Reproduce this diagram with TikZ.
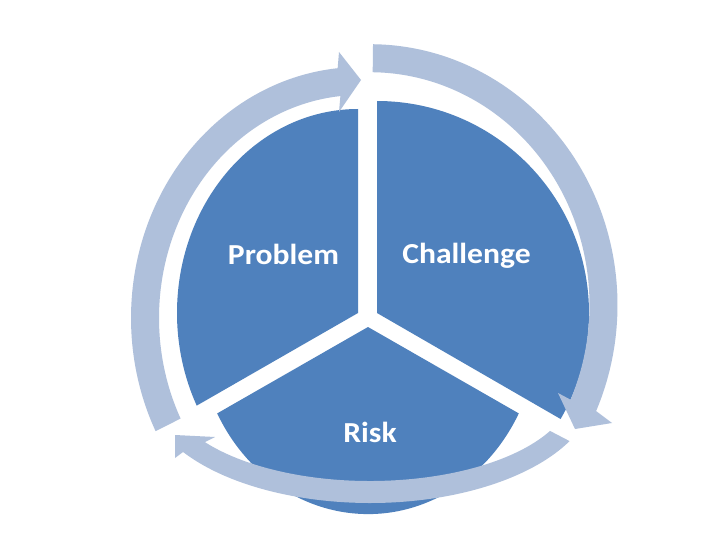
\documentclass[tikz,border=0pt]{standalone}
\usepackage{graphicx}
\usepackage{fontspec}
\setmainfont{Carlito}
\definecolor{segblue}{RGB}{79,129,189}
\definecolor{arrowblue}{RGB}{175,192,219}
\begin{document}
\begin{tikzpicture}[x=1pt,y=1pt,yscale=-1,
  seg/.style={fill=segblue},
  arr/.style={fill=arrowblue},
  lbl/.style={text=white, font=\fontsize{29}{34}\selectfont\bfseries, anchor=base, inner sep=0pt}]
\fill[white] (0,0) rectangle (720,540);
\useasboundingbox (0,0) rectangle (720,540);
% sectors
\fill[seg] (377,313) -- (377,101) arc[start angle=-90, end angle=30, radius=212] -- cycle;
\fill[seg] (358,313) -- (358,109) arc[start angle=-90, end angle=-207, x radius=181, y radius=204] -- cycle;
\fill[seg] (368,327) -- (217.2,413.4) arc[start angle=152.5, end angle=27.5, x radius=170, y radius=187] -- cycle;
% arrow: left side up to top
\fill[arr] ([shift={(360,318)}]153.2:229 and 251)
  arc[start angle=153.2, end angle=264.4, x radius=229, y radius=251]
  -- (339,52) -- (361,80) -- (339,112)
  -- ([shift={(360,318)}]264.4:201 and 223)
  arc[start angle=264.4, end angle=153.2, x radius=201, y radius=223] -- cycle;
% arrow: top down the right side
\fill[arr] ([shift={(370,305)}]-89.3:247.5 and 260.8)
  arc[start angle=-89.3, end angle=24, x radius=247.5, y radius=260.8]
  -- (612,423) -- (575,429) -- (558,393)
  -- ([shift={(370,305)}]24:219.5 and 232.8)
  arc[start angle=24, end angle=-89.3, x radius=219.5, y radius=232.8] -- cycle;
% arrow: bottom, right to left
\fill[arr] ([shift={(370,388)}]146.2:225 and 115)
  arc[start angle=146.2, end angle=27.5, x radius=225, y radius=115]
  -- ([shift={(370,388)}]27.5:203 and 93)
  arc[start angle=27.5, end angle=144.4, x radius=203, y radius=93]
  -- (215,437) -- (175,435) -- (175,458) -- cycle;
% labels
\node[lbl] (problem) at (283.5,264) {\scalebox{1.09}[1]{Problem}};
\node[lbl] (challenge) at (466.5,263) {\scalebox{1.09}[1]{Challenge}};
\node[lbl] (risk) at (370,442) {\scalebox{1.09}[1]{Risk}};
\end{tikzpicture}
\end{document}
